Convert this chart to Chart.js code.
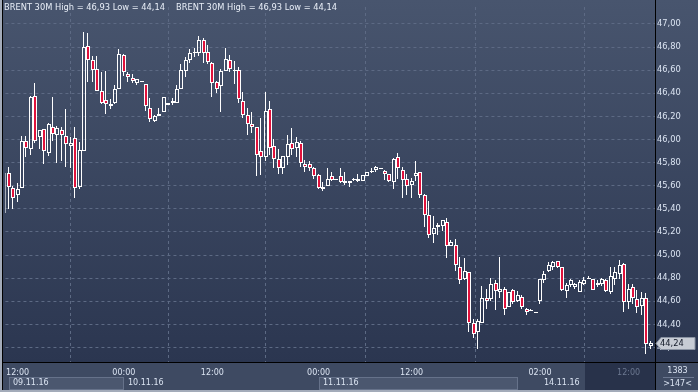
<!DOCTYPE html>
<html>
<head>
<meta charset="utf-8">
<script src="https://cdn.jsdelivr.net/npm/chart.js@4/dist/chart.umd.min.js"></script>
<style>
  html, body { margin: 0; padding: 0; background: #2f3a52; }
  canvas { display: block; }
</style>
</head>
<body>
<canvas id="chart" width="698" height="392"></canvas>
<script>
// ─── DATA ─────────────────────────────────────────────────────────────────────
const opens = [45.36,45.71,45.58,45.52,45.58,45.99,45.92,46.38,46.02,46.09,45.88,46.11,46.04,46.08,46.03,45.94,46.01,45.59,45.90,46.81,
  46.69,46.61,46.42,46.34,46.29,46.32,46.44,46.73,46.57,46.53,46.49,46.51,46.48,46.27,46.16,46.20,46.24,46.30,46.32,46.32,
  46.44,46.59,46.69,46.76,46.75,46.86,46.76,46.66,46.50,46.46,46.59,46.69,46.60,46.60,46.33,46.21,46.13,46.11,45.90,45.85,
  46.26,45.94,45.83,45.75,45.85,45.97,45.93,45.97,45.79,45.79,45.75,45.69,45.57,45.60,45.68,45.66,45.68,45.62,45.62,45.65,
  45.64,45.64,45.68,45.72,45.74,45.75,45.73,45.70,45.63,45.85,45.74,45.66,45.61,45.68,45.72,45.52,45.35,45.18,45.24,45.25,
  45.29,45.08,45.09,44.90,44.79,44.85,44.41,44.33,44.41,44.63,44.62,44.76,44.68,44.71,44.55,44.70,44.60,44.64,44.53,44.52,
  44.51,44.60,44.78,44.86,44.90,44.95,44.90,44.69,44.74,44.72,44.68,44.75,44.79,44.79,44.74,44.75,44.78,44.68,44.79,44.84,
  44.92,44.59,44.72,44.62,44.56,44.63,44.21];
const highs = [45.72,45.76,45.60,45.62,46.03,46.03,46.38,46.49,46.08,46.09,46.14,46.37,46.12,46.11,46.26,46.02,46.11,45.98,46.93,46.92,
  46.72,46.72,46.58,46.59,46.35,46.47,46.78,46.74,46.58,46.57,46.52,46.51,46.48,46.36,46.21,46.27,46.37,46.32,46.36,46.47,
  46.65,46.71,46.78,46.79,46.90,46.88,46.82,46.67,46.51,46.61,46.79,46.73,46.68,46.63,46.41,46.27,46.24,46.11,46.19,46.41,
  46.33,46.00,45.92,45.86,46.04,46.10,46.02,45.99,45.82,45.81,45.76,45.70,45.63,45.75,45.72,45.66,45.75,45.72,45.64,45.67,
  45.70,45.69,45.72,45.75,45.77,45.75,45.74,45.70,45.84,45.88,45.76,45.70,45.67,45.81,45.72,45.53,45.47,45.34,45.28,45.30,
  45.32,45.13,45.14,44.98,44.97,44.85,44.45,44.45,44.73,44.71,44.80,44.78,44.98,44.72,44.68,44.71,44.69,44.65,44.54,44.53,
  44.51,44.79,44.86,44.94,44.95,44.95,44.90,44.76,44.79,44.76,44.78,44.81,44.82,44.79,44.78,44.80,44.79,44.90,44.90,44.96,
  44.93,44.75,44.75,44.70,44.68,44.67,44.26];
const lows = [45.30,45.40,45.40,45.46,45.58,45.85,45.87,45.97,45.92,45.79,45.86,45.99,45.80,45.81,45.76,45.75,45.49,45.57,45.90,46.50,
  46.50,46.42,46.31,46.22,46.26,46.31,46.44,46.55,46.50,46.49,46.47,46.51,46.25,46.15,46.15,46.20,46.24,46.30,46.30,46.32,
  46.44,46.54,46.66,46.71,46.72,46.66,46.65,46.37,46.40,46.24,46.59,46.58,46.48,46.32,46.19,46.04,46.06,45.68,45.69,45.81,
  45.87,45.75,45.70,45.70,45.78,45.87,45.85,45.76,45.72,45.73,45.66,45.57,45.55,45.60,45.64,45.66,45.62,45.61,45.59,45.64,
  45.63,45.64,45.68,45.71,45.72,45.75,45.65,45.63,45.57,45.66,45.49,45.52,45.49,45.64,45.49,45.24,45.15,45.10,45.17,45.21,
  44.97,45.08,44.86,44.75,44.78,44.33,44.28,44.19,44.41,44.53,44.60,44.52,44.63,44.48,44.55,44.58,44.59,44.53,44.48,44.52,
  44.51,44.58,44.76,44.85,44.87,44.89,44.69,44.63,44.72,44.71,44.68,44.74,44.79,44.70,44.72,44.73,44.68,44.66,44.74,44.79,
  44.51,44.53,44.58,44.50,44.48,44.14,44.19];
const closes = [45.71,45.59,45.49,45.57,45.99,45.93,46.37,45.99,46.08,45.90,46.13,46.05,46.10,46.04,45.96,45.97,45.58,45.91,46.80,46.69,
  46.60,46.42,46.32,46.31,46.31,46.44,46.74,46.58,46.54,46.51,46.52,46.51,46.29,46.18,46.20,46.22,46.37,46.32,46.33,46.44,
  46.60,46.69,46.75,46.76,46.86,46.75,46.67,46.49,46.44,46.59,46.70,46.61,46.60,46.35,46.21,46.13,46.11,45.87,45.85,46.25,
  45.93,45.83,45.75,45.86,45.96,45.92,45.98,45.80,45.76,45.75,45.68,45.58,45.59,45.66,45.65,45.66,45.63,45.64,45.64,45.66,
  45.66,45.69,45.72,45.73,45.76,45.75,45.70,45.64,45.83,45.75,45.65,45.60,45.64,45.71,45.52,45.35,45.17,45.23,45.26,45.30,
  45.08,45.11,44.91,44.78,44.86,44.41,44.32,44.43,44.63,44.60,44.75,44.69,44.71,44.53,44.68,44.59,44.65,44.55,44.51,44.52,
  44.51,44.79,44.84,44.91,44.94,44.90,44.70,44.74,44.78,44.75,44.77,44.78,44.80,44.70,44.76,44.79,44.69,44.82,44.85,44.91,
  44.59,44.71,44.63,44.55,44.63,44.23,44.24];

const priceTicks = [44.2,44.4,44.6,44.8,45.0,45.2,45.4,45.6,45.8,46.0,46.2,46.4,46.6,46.8,47.0];
const timeTickIdx = [3, 27, 47, 71, 92, 121, 141];
const timeTickLabels = ['12:00','00:00','12:00','00:00','12:00','02:00','12:00'];
const dayStartIdx = [1, 27, 71, 121];
const dayEndIdx = [27, 71, 116, 131.2];
const dayLabels = ['09.11.16','10.11.16','11.11.16','14.11.16'];
const symbol = 'BRENT 30M';
const barCount = '1383';

// ─── STYLE ────────────────────────────────────────────────────────────────────
const RED = '#e0123c';
const GRID = '#5d6a84';
const LABEL = '#dbe4f2';
const FONT = '"DejaVu Sans", Verdana, sans-serif';
const shadeFromIdx = 131.2;

const fmt = v => v.toFixed(2).replace('.', ',');
const idx = closes.map((_, i) => i);

// ─── PLUGINS ──────────────────────────────────────────────────────────────────
// snap candles to whole pixels so 1px wicks stay sharp
const crisp = {
  id: 'crisp',
  afterDatasetsUpdate(chart) {
    chart.data.datasets.forEach((ds, di) => {
      const w = ds.barThickness;
      chart.getDatasetMeta(di).data.forEach(el => {
        el.x = w % 2 ? Math.round(el.x) - 0.5 : Math.round(el.x);
        el.y = Math.round(el.y);
        el.base = Math.round(el.base);
        if (ds.isBody && Math.abs(el.y - el.base) < 1) el.base = el.y + 1;
        el.width = w;
      });
    });
  }
};

const frame = {
  id: 'frame',
  beforeDraw(chart) {
    const { ctx, chartArea: a, scales: { x } } = chart;
    const W = chart.width, H = chart.height;
    ctx.save();
    const g = ctx.createLinearGradient(0, 0, 0, a.bottom);
    g.addColorStop(0, '#48556e');
    g.addColorStop(1, '#2b3650');
    ctx.fillStyle = g;
    ctx.fillRect(0, 0, W, a.bottom);
    ctx.fillStyle = '#3e4a62';
    ctx.fillRect(0, a.bottom, W, H - a.bottom);
    // day boxes, every other one highlighted
    dayStartIdx.forEach((d, i) => {
      if (i % 2) return;
      const x0 = Math.round(x.getPixelForValue(d));
      const x1 = Math.round(x.getPixelForValue(dayEndIdx[i]));
      ctx.fillStyle = '#4b576f';
      ctx.fillRect(x0, 377, x1 - x0, 13);
      ctx.strokeStyle = '#66728a';
      ctx.lineWidth = 1;
      ctx.strokeRect(x0 + 0.5, 377.5, x1 - x0 - 1, 12);
    });
    const shadeX = Math.round(x.getPixelForValue(shadeFromIdx));
    ctx.fillStyle = '#28324a';
    ctx.fillRect(shadeX, a.bottom, a.right - shadeX, H - a.bottom);
    ctx.restore();
  },
  afterDraw(chart) {
    const { ctx, chartArea: a, scales: { x, y } } = chart;
    const W = chart.width, H = chart.height;
    ctx.save();
    // axis lines and frame
    ctx.fillStyle = '#000';
    ctx.fillRect(a.right, 0, 1, H);
    ctx.fillRect(0, a.bottom, W, 1);
    ctx.fillRect(2, 0, 1, H);
    ctx.fillStyle = '#a3abb9';
    ctx.fillRect(0, 0, 2, H);
    ctx.fillRect(0, H - 2, W, 2);

    // title
    const hi = Math.max(...highs), lo = Math.min(...lows);
    const title = `${symbol} High = ${fmt(hi)} Low = ${fmt(lo)}`;
    ctx.font = `8.3px ${FONT}`;
    ctx.fillStyle = '#e8eef7';
    ctx.textBaseline = 'middle';
    ctx.textAlign = 'left';
    ctx.fillText(title, 4, 8);
    ctx.fillText(title, 176, 8);

    // date row
    ctx.font = `8px ${FONT}`;
    ctx.fillStyle = LABEL;
    dayStartIdx.forEach((d, i) => {
      const x0 = Math.round(x.getPixelForValue(d));
      ctx.fillText(dayLabels[i], x0 + 4, 383);
    });

    // bar counter box
    ctx.textAlign = 'center';
    ctx.fillText(barCount, (a.right + W) / 2 + 1, 371);
    ctx.fillStyle = '#6b7790';
    ctx.fillRect(a.right + 8, 377, W - a.right - 12, 1);
    ctx.fillStyle = LABEL;
    ctx.fillText('>' + closes.length + '<', (a.right + W) / 2 + 1, 384);

    // last price tag
    const last = closes[closes.length - 1];
    const py = Math.round(y.getPixelForValue(last)) + 0.5;
    ctx.beginPath();
    ctx.moveTo(a.right + 1, py);
    ctx.lineTo(a.right + 6, py - 6);
    ctx.lineTo(W - 3, py - 6);
    ctx.lineTo(W - 3, py + 6);
    ctx.lineTo(a.right + 6, py + 6);
    ctx.closePath();
    ctx.fillStyle = '#c7ccd5';
    ctx.fill();
    ctx.strokeStyle = '#8a93a3';
    ctx.lineWidth = 1;
    ctx.stroke();
    ctx.fillStyle = '#111827';
    ctx.textAlign = 'left';
    ctx.font = `8.3px ${FONT}`;
    ctx.fillText(fmt(last), a.right + 5, py + 0.5);
    ctx.restore();
  }
};

// ─── CHART ────────────────────────────────────────────────────────────────────
const body = idx.map(i => ({ x: i, y: [opens[i], closes[i]] }));
const upperWick = idx.map(i => ({ x: i, y: [Math.max(opens[i], closes[i]), highs[i]] }));
const lowerWick = idx.map(i => ({ x: i, y: [lows[i], Math.min(opens[i], closes[i])] }));

new Chart(document.getElementById('chart'), {
  type: 'bar',
  data: {
    datasets: [
      { data: body, isBody: true, grouped: false, barThickness: 4, borderWidth: 1, borderSkipped: false,
        borderColor: '#ffffff', inflateAmount: 0,
        backgroundColor: idx.map(i => closes[i] < opens[i] ? RED : 'rgba(0,0,0,0)') },
      { data: upperWick, grouped: false, barThickness: 1, borderWidth: 0, inflateAmount: 0, backgroundColor: '#ffffff' },
      { data: lowerWick, grouped: false, barThickness: 1, borderWidth: 0, inflateAmount: 0, backgroundColor: '#ffffff' }
    ]
  },
  options: {
    responsive: false,
    animation: false,
    devicePixelRatio: 1,
    layout: { padding: { left: 3, top: 0, right: 0, bottom: 0 } },
    plugins: { legend: { display: false }, tooltip: { enabled: false } },
    scales: {
      x: {
        type: 'linear', min: 0.257, max: 146.97, offset: false,
        afterBuildTicks: s => { s.ticks = timeTickIdx.map(v => ({ value: v })); },
        afterFit: s => { s.height = 30; },
        grid: { color: GRID, lineWidth: 1, drawTicks: false, borderDash: [3, 3] },
        border: { display: false, dash: [3, 3] },
        ticks: {
          autoSkip: false, maxRotation: 0, padding: 6,
          font: { family: FONT, size: 8 },
          color: c => c.index === timeTickIdx.length - 1 ? '#6c7891' : LABEL,
          callback: (v, i) => timeTickLabels[i]
        }
      },
      y: {
        position: 'right', min: 44.074, max: 47.147,
        afterBuildTicks: s => { s.ticks = priceTicks.map(v => ({ value: v })); },
        afterFit: s => { s.width = 43; },
        grid: { color: GRID, lineWidth: 1, drawTicks: false, borderDash: [3, 3] },
        border: { display: false, dash: [3, 3] },
        ticks: { padding: 2, font: { family: FONT, size: 8.3 }, color: LABEL, callback: v => fmt(v) }
      }
    }
  },
  plugins: [crisp, frame]
});
</script>
</body>
</html>
